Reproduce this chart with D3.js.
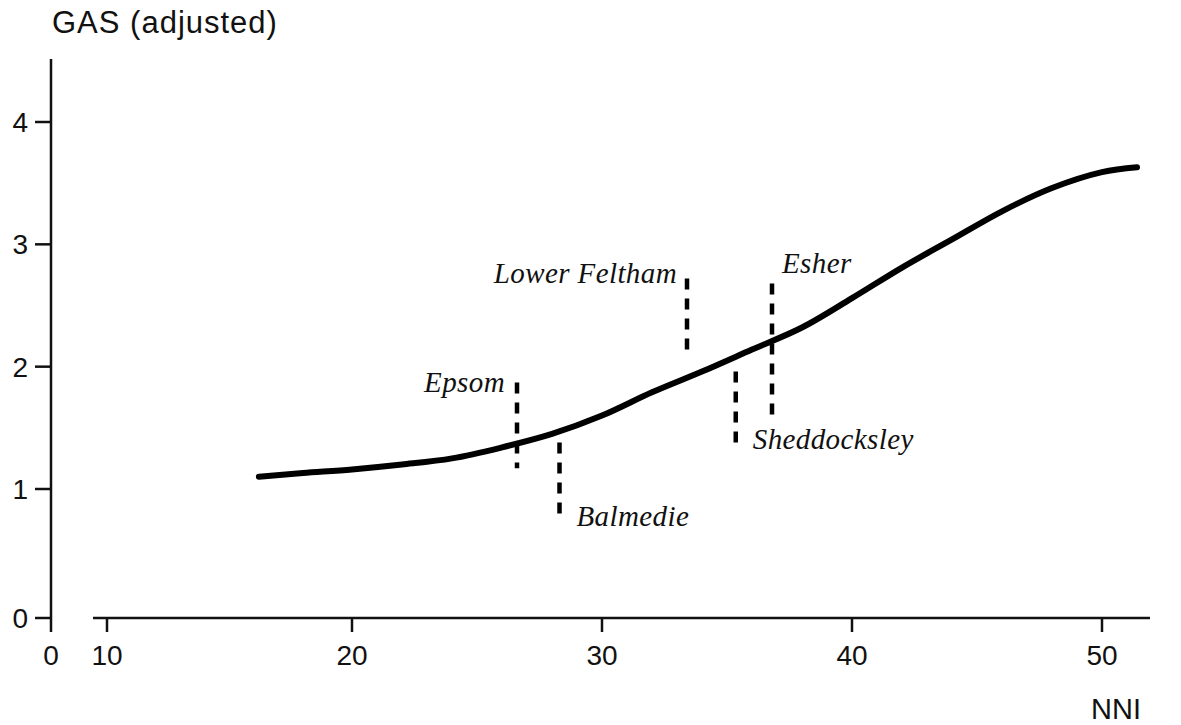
<!DOCTYPE html>
<html>
<head>
<meta charset="utf-8">
<script src="https://cdn.jsdelivr.net/npm/d3@7"></script>
<style>
  html, body { margin: 0; padding: 0; background: #fff; }
  svg { display: block; }
  .sans { font-family: "Liberation Sans", Arial, Helvetica, sans-serif; fill: #111; }
  .site { font-family: "Liberation Serif", "Times New Roman", serif; font-style: italic; fill: #111; letter-spacing: 0.4px; }
</style>
</head>
<body>
<svg id="chart" width="1181" height="725"></svg>
<script>
// Fitted GAS curve against NNI
const curveNNI = [16.2, 18, 20, 22, 24, 26, 28, 30, 32, 34, 36, 38, 40, 42, 44, 46, 48, 50, 51.4];
const curveGAS = [1.10, 1.13, 1.16, 1.20, 1.25, 1.34, 1.45, 1.60, 1.79, 1.96, 2.14, 2.32, 2.56, 2.81, 3.04, 3.27, 3.46, 3.59, 3.63];

// Individual sites: NNI position and GAS range
const siteNames = ["Epsom", "Balmedie", "Lower Feltham", "Sheddocksley", "Esher"];
const siteNNI   = [26.6, 28.3, 33.4, 35.35, 36.8];
const siteLow   = [1.17, 0.78, 2.11, 1.33, 1.58];
const siteHigh  = [1.87, 1.38, 2.72, 1.96, 2.68];

// Axis ticks
const xTicks = [0, 10, 20, 30, 40, 50];
const yTicks = [0, 1, 2, 3, 4];

const svg = d3.select("#chart");

// Broken x axis: 0 sits at the vertical axis, the scale proper starts at 10
const x = d3.scaleLinear().domain([0, 10, 20, 50]).range([51, 107, 352, 1102]);
const y = d3.scaleLinear().domain([0, 1, 4]).range([618, 489, 122]);

// Vertical axis
svg.append("line")
  .attr("x1", x(0)).attr("x2", x(0))
  .attr("y1", 59).attr("y2", y(0) + 14)
  .attr("stroke", "#111").attr("stroke-width", 2.5);

svg.selectAll(".ytick").data(yTicks).join("line")
  .attr("x1", x(0) - 16).attr("x2", x(0))
  .attr("y1", d => y(d)).attr("y2", d => y(d))
  .attr("stroke", "#111").attr("stroke-width", 2.5);

svg.selectAll(".ylab").data(yTicks).join("text")
  .attr("class", "sans")
  .attr("x", x(0) - 23).attr("y", d => y(d))
  .attr("dy", "0.36em")
  .attr("text-anchor", "end")
  .attr("font-size", 28)
  .text(d => d);

svg.append("text").attr("class", "sans")
  .attr("x", 52).attr("y", 33)
  .attr("font-size", 31)
  .attr("letter-spacing", 1)
  .text("GAS (adjusted)");

// Horizontal axis
svg.append("line")
  .attr("x1", x(10) - 14).attr("x2", 1150)
  .attr("y1", y(0)).attr("y2", y(0))
  .attr("stroke", "#111").attr("stroke-width", 2.5);

svg.selectAll(".xtick").data(xTicks.filter(d => d > 0)).join("line")
  .attr("x1", d => x(d)).attr("x2", d => x(d))
  .attr("y1", y(0)).attr("y2", y(0) + 14)
  .attr("stroke", "#111").attr("stroke-width", 2.5);

svg.selectAll(".xlab").data(xTicks).join("text")
  .attr("class", "sans")
  .attr("x", d => x(d)).attr("y", 665)
  .attr("text-anchor", "middle")
  .attr("font-size", 28)
  .text(d => d);

svg.append("text").attr("class", "sans")
  .attr("x", 1116).attr("y", 719)
  .attr("text-anchor", "middle")
  .attr("font-size", 29)
  .text("NNI");

// Fitted curve
const line = d3.line()
  .x(d => x(d))
  .y((d, i) => y(curveGAS[i]))
  .curve(d3.curveCatmullRom.alpha(0.5));

svg.append("path")
  .attr("d", line(curveNNI))
  .attr("fill", "none")
  .attr("stroke", "#000")
  .attr("stroke-width", 6)
  .attr("stroke-linecap", "round");

// Site ranges as dashed verticals
const sites = siteNames.map((name, i) => ({
  name, nni: siteNNI[i], low: siteLow[i], high: siteHigh[i]
}));

svg.selectAll(".range").data(sites).join("line")
  .attr("x1", d => x(d.nni)).attr("x2", d => x(d.nni))
  .attr("y1", d => y(d.high)).attr("y2", d => y(d.low))
  .attr("stroke", "#000")
  .attr("stroke-width", 4.5)
  .attr("stroke-dasharray", "11,9");

// Label placement: which end of the range, which side, and offset
const placement = {
  "Epsom":         { end: "high", anchor: "end",   dx: -12, dy: 9 },
  "Lower Feltham": { end: "high", anchor: "end",   dx: -10, dy: 4 },
  "Esher":         { end: "high", anchor: "start", dx: 10,  dy: -10 },
  "Sheddocksley":  { end: "low",  anchor: "start", dx: 17,  dy: 0 },
  "Balmedie":      { end: "low",  anchor: "start", dx: 17,  dy: 9 }
};

svg.selectAll(".sitelab").data(sites).join("text")
  .attr("class", "site")
  .attr("x", d => x(d.nni) + placement[d.name].dx)
  .attr("y", d => y(d[placement[d.name].end]) + placement[d.name].dy)
  .attr("text-anchor", d => placement[d.name].anchor)
  .attr("font-size", 29)
  .text(d => d.name);
</script>
</body>
</html>
